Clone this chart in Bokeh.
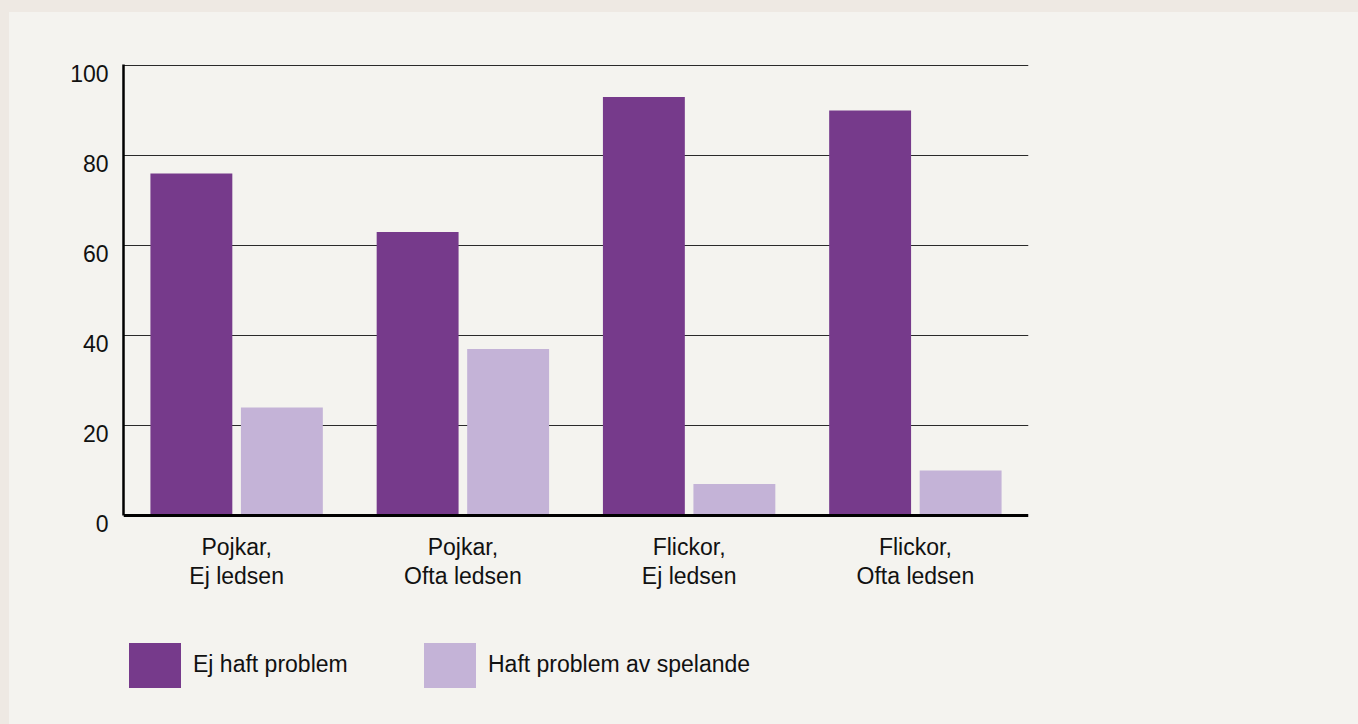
from bokeh.plotting import figure
from bokeh.models import (FactorRange, Range1d, Span, Legend, LegendItem, Grid,
                          FixedTicker, ColumnDataSource, LinearAxis)
from bokeh.transform import dodge
from bokeh.layouts import column
from bokeh.embed import file_html
from bokeh.resources import INLINE

# Share (%) of each group that has / has not had problems from gaming
groups = ["Pojkar,\nEj ledsen", "Pojkar,\nOfta ledsen",
          "Flickor,\nEj ledsen", "Flickor,\nOfta ledsen"]
ej_haft_problem = [76, 63, 93, 90]
haft_problem_av_spelande = [24, 37, 7, 10]
series_names = ["Ej haft problem", "Haft problem av spelande"]
y_ticks = [0, 20, 40, 60, 80, 100]

DARK = "#763a8b"
LIGHT = "#c4b3d7"
PANEL = "#f4f3ef"
OUTER = "#eee9e3"
INK = "#111111"
FONT = "Liberation Sans"

Y_BOTTOM = -4.0     # room under the baseline for the lowest value label
Y_TOP = 100.22
LABEL_DROP = 1.8    # value labels sit just under their gridline

source = ColumnDataSource(dict(group=groups,
                               ej=ej_haft_problem,
                               haft=haft_problem_av_spelande))

# both figures are transparent; the card colour comes from the container
p = figure(x_range=FactorRange(*groups), y_range=Range1d(Y_BOTTOM, Y_TOP),
           frame_width=905, frame_height=469,
           min_border_left=114, min_border_right=330,
           min_border_top=52, min_border_bottom=82,
           y_axis_location=None,
           output_backend="svg", toolbar_location=None,
           background_fill_alpha=0, border_fill_alpha=0,
           outline_line_color=None, margin=0)

p.vbar(x=dodge("group", -0.2, range=p.x_range), top="ej", width=0.362,
       source=source, fill_color=DARK, line_color=None)
p.vbar(x=dodge("group", 0.2, range=p.x_range), top="haft", width=0.362,
       source=source, fill_color=LIGHT, line_color=None)

# horizontal gridlines
p.xgrid.grid_line_color = None
p.add_layout(Grid(dimension=1, ticker=FixedTicker(ticks=y_ticks[1:]),
                  grid_line_color="#2a2a2a", grid_line_width=1.1))

# baseline at zero
p.add_layout(Span(location=0, dimension="width", line_color="black",
                  line_width=3))

# vertical axis line from 0 to the top
line_axis = LinearAxis(ticker=FixedTicker(ticks=[]), bounds=(0, Y_TOP),
                       axis_line_color="black", axis_line_width=2.5,
                       major_tick_out=0, major_tick_in=0, major_label_standoff=0)
p.add_layout(line_axis, "left")

# value labels hang just below each gridline
p.extra_y_ranges = {"labels": Range1d(Y_BOTTOM + LABEL_DROP, Y_TOP + LABEL_DROP)}
ya = LinearAxis(y_range_name="labels", ticker=FixedTicker(ticks=y_ticks),
                bounds=(y_ticks[0], y_ticks[-1]),
                axis_line_color=None, major_tick_line_color=None,
                minor_tick_line_color=None, major_label_standoff=9,
                major_label_text_font=FONT, major_label_text_font_size="23px",
                major_label_text_color=INK)
p.add_layout(ya, "left")

xa = p.xaxis[0]
xa.axis_line_color = None
xa.major_tick_line_color = None
xa.minor_tick_line_color = None
xa.major_tick_out = 0
xa.major_tick_in = 0
xa.major_label_standoff = 0
xa.major_label_text_font = FONT
xa.major_label_text_font_size = "23px"
xa.major_label_text_color = INK
xa.major_label_text_line_height = 1.15

# legend strip under the chart
lg = figure(width=1349, height=109, x_range=Range1d(0, 1), y_range=Range1d(0, 1),
            x_axis_location=None, y_axis_location=None,
            min_border=0, output_backend="svg", toolbar_location=None,
            background_fill_alpha=0, border_fill_alpha=0,
            outline_line_color=None, margin=0)
lg.xgrid.visible = False
lg.ygrid.visible = False

# zero-height stand-ins that give each legend key a glyph to draw
key_source = ColumnDataSource(dict(x=[0.5], top=[0.0]))
k1 = lg.vbar(x="x", top="top", width=0, source=key_source,
             fill_color=DARK, line_color=None)
k2 = lg.vbar(x="x", top="top", width=0, source=key_source,
             fill_color=LIGHT, line_color=None)

legend = Legend(items=[LegendItem(label=series_names[0], renderers=[k1]),
                       LegendItem(label=series_names[1], renderers=[k2])],
                orientation="horizontal", location=(-1, 31.5),
                glyph_width=65, glyph_height=56, label_height=56,
                label_standoff=6, label_width=200, spacing=24,
                padding=0, margin=0,
                border_line_color=None, background_fill_alpha=0,
                label_text_font=FONT, label_text_font_size="23px",
                label_text_baseline="top", label_text_color=INK)
lg.add_layout(legend, "center")

card = column(p, lg, margin=(12, 0, 0, 9), styles={"background-color": PANEL})
page = column(card, styles={"background-color": OUTER})
open("out.html", "w").write(file_html(page, INLINE))
